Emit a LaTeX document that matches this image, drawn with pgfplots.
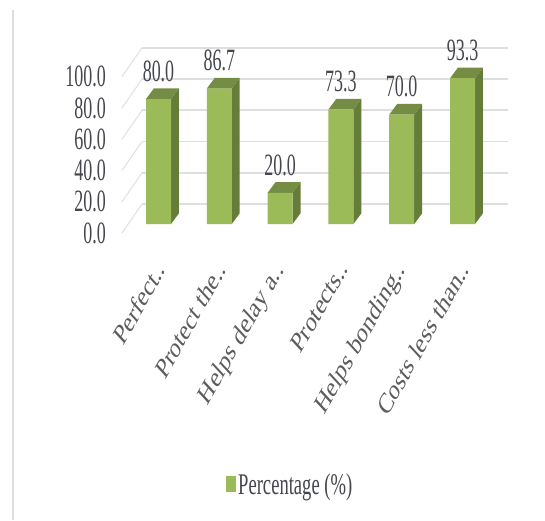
\documentclass[border=0pt]{standalone}
\usepackage{pgfplots}
\usepackage{graphicx}
\usepackage{fontspec}
\setmainfont{Liberation Serif}
\pgfplotsset{compat=1.18}
\definecolor{barfront}{HTML}{9BBB59}
\definecolor{barside}{HTML}{667C39}
\definecolor{bartop}{HTML}{748C43}
\definecolor{gridc}{HTML}{DEDEDE}
\definecolor{txt}{HTML}{45464E}
\definecolor{ltxt}{HTML}{5C5C5C}
\newcommand{\sq}[1]{\scalebox{0.58}[1]{#1}}
\newcommand{\legtxt}[1]{\scalebox{0.62}[1]{#1}}
\newcommand{\rl}[1]{\scalebox{0.72}[1]{\rotatebox{52}{\color{ltxt}#1}}}
\begin{document}
\begin{tikzpicture}[x=1pt,y=1pt]
\useasboundingbox (0,0) rectangle (545,520);
\fill[white] (0,0) rectangle (545,520);
\draw[gridc,line width=2.4pt] (13,0) -- (13,510);
\begin{axis}[
  at={(122pt,296pt)}, anchor=south west,
  scale only axis, width=386pt, height=187.5pt,
  xmin=-0.6003, xmax=5.748, ymin=0, ymax=120,
  clip=false,
  axis line style={draw=none},
  tick style={draw=none},
  xtick={0,1,2,3,4,5},
  xticklabels={\rl{Perfect..},\rl{Protect the..},\rl{Helps delay a..},\rl{Protects..},\rl{Helps bonding..},\rl{Costs less than..}},
  xticklabel style={anchor=north east,inner sep=0pt,xshift=8pt,yshift=-34pt,font=\fontsize{29}{29}\selectfont},
  ytick={0,20,40,60,80,100},
  yticklabels={\sq{0.0},\sq{20.0},\sq{40.0},\sq{60.0},\sq{80.0},\sq{100.0}},
  yticklabel style={anchor=east,inner sep=0pt,xshift=-16pt,yshift=-9pt,text=txt,font=\fontsize{31}{31}\selectfont},
  legend style={at={(104pt,-238pt)},anchor=north west,draw=none,fill=none,inner sep=0pt,
    font=\fontsize{30}{30}\selectfont,text=txt},
  legend image code/.code={\fill[barfront] (0pt,-8pt) rectangle (10pt,8pt);},
  legend cell align=left,
]
% back wall grid lines
\addplot[gridc,line width=1.6pt,forget plot] coordinates {(-0.271,12.8)(5.748,12.8)};
\addplot[gridc,line width=1.6pt,forget plot] coordinates {(-0.271,32.8)(5.748,32.8)};
\addplot[gridc,line width=1.6pt,forget plot] coordinates {(-0.271,52.8)(5.748,52.8)};
\addplot[gridc,line width=1.6pt,forget plot] coordinates {(-0.271,72.8)(5.748,72.8)};
\addplot[gridc,line width=1.6pt,forget plot] coordinates {(-0.271,92.8)(5.748,92.8)};
\addplot[gridc,line width=1.6pt,forget plot] coordinates {(-0.271,112.8)(5.748,112.8)};
% side wall lines
\addplot[gridc,line width=0.9pt,forget plot] coordinates {(-0.6003,-5.76)(-0.271,12.8)};
\addplot[gridc,line width=0.9pt,forget plot] coordinates {(-0.6003,14.24)(-0.271,32.8)};
\addplot[gridc,line width=0.9pt,forget plot] coordinates {(-0.6003,34.24)(-0.271,52.8)};
\addplot[gridc,line width=0.9pt,forget plot] coordinates {(-0.6003,54.24)(-0.271,72.8)};
\addplot[gridc,line width=0.9pt,forget plot] coordinates {(-0.6003,74.24)(-0.271,92.8)};
\addplot[gridc,line width=0.9pt,forget plot] coordinates {(-0.6003,94.24)(-0.271,112.8)};
% side faces
\addplot[fill=barside,draw=none,forget plot] coordinates {(0.205,0)(0.336,6.85)(0.336,86.85)(0.205,80)} -- cycle;
\addplot[fill=barside,draw=none,forget plot] coordinates {(1.205,0)(1.336,6.85)(1.336,93.55)(1.205,86.7)} -- cycle;
\addplot[fill=barside,draw=none,forget plot] coordinates {(2.205,0)(2.336,6.85)(2.336,26.85)(2.205,20)} -- cycle;
\addplot[fill=barside,draw=none,forget plot] coordinates {(3.205,0)(3.336,6.85)(3.336,80.15)(3.205,73.3)} -- cycle;
\addplot[fill=barside,draw=none,forget plot] coordinates {(4.205,0)(4.336,6.85)(4.336,76.85)(4.205,70)} -- cycle;
\addplot[fill=barside,draw=none,forget plot] coordinates {(5.205,0)(5.336,6.85)(5.336,100.15)(5.205,93.3)} -- cycle;
% top faces
\addplot[fill=bartop,draw=none,forget plot] coordinates {(-0.205,80)(-0.074,86.85)(0.336,86.85)(0.205,80)} -- cycle;
\addplot[fill=bartop,draw=none,forget plot] coordinates {(0.795,86.7)(0.926,93.55)(1.336,93.55)(1.205,86.7)} -- cycle;
\addplot[fill=bartop,draw=none,forget plot] coordinates {(1.795,20)(1.926,26.85)(2.336,26.85)(2.205,20)} -- cycle;
\addplot[fill=bartop,draw=none,forget plot] coordinates {(2.795,73.3)(2.926,80.15)(3.336,80.15)(3.205,73.3)} -- cycle;
\addplot[fill=bartop,draw=none,forget plot] coordinates {(3.795,70)(3.926,76.85)(4.336,76.85)(4.205,70)} -- cycle;
\addplot[fill=bartop,draw=none,forget plot] coordinates {(4.795,93.3)(4.926,100.15)(5.336,100.15)(5.205,93.3)} -- cycle;
% front faces
\addplot[ybar,bar width=25pt,fill=barfront,draw=none,
  point meta=explicit symbolic,
  nodes near coords={\fontsize{31}{31}\selectfont\sq{\pgfplotspointmeta}},
  nodes near coords style={anchor=south,inner sep=0pt,yshift=17pt,text=txt},
] coordinates {(0,80.0)[80.0] (1,86.7)[86.7] (2,20.0)[20.0] (3,73.3)[73.3] (4,70.0)[70.0] (5,93.3)[93.3]};
\addlegendentry{\legtxt{Percentage (\%)}}
\end{axis}
\end{tikzpicture}
\end{document}
